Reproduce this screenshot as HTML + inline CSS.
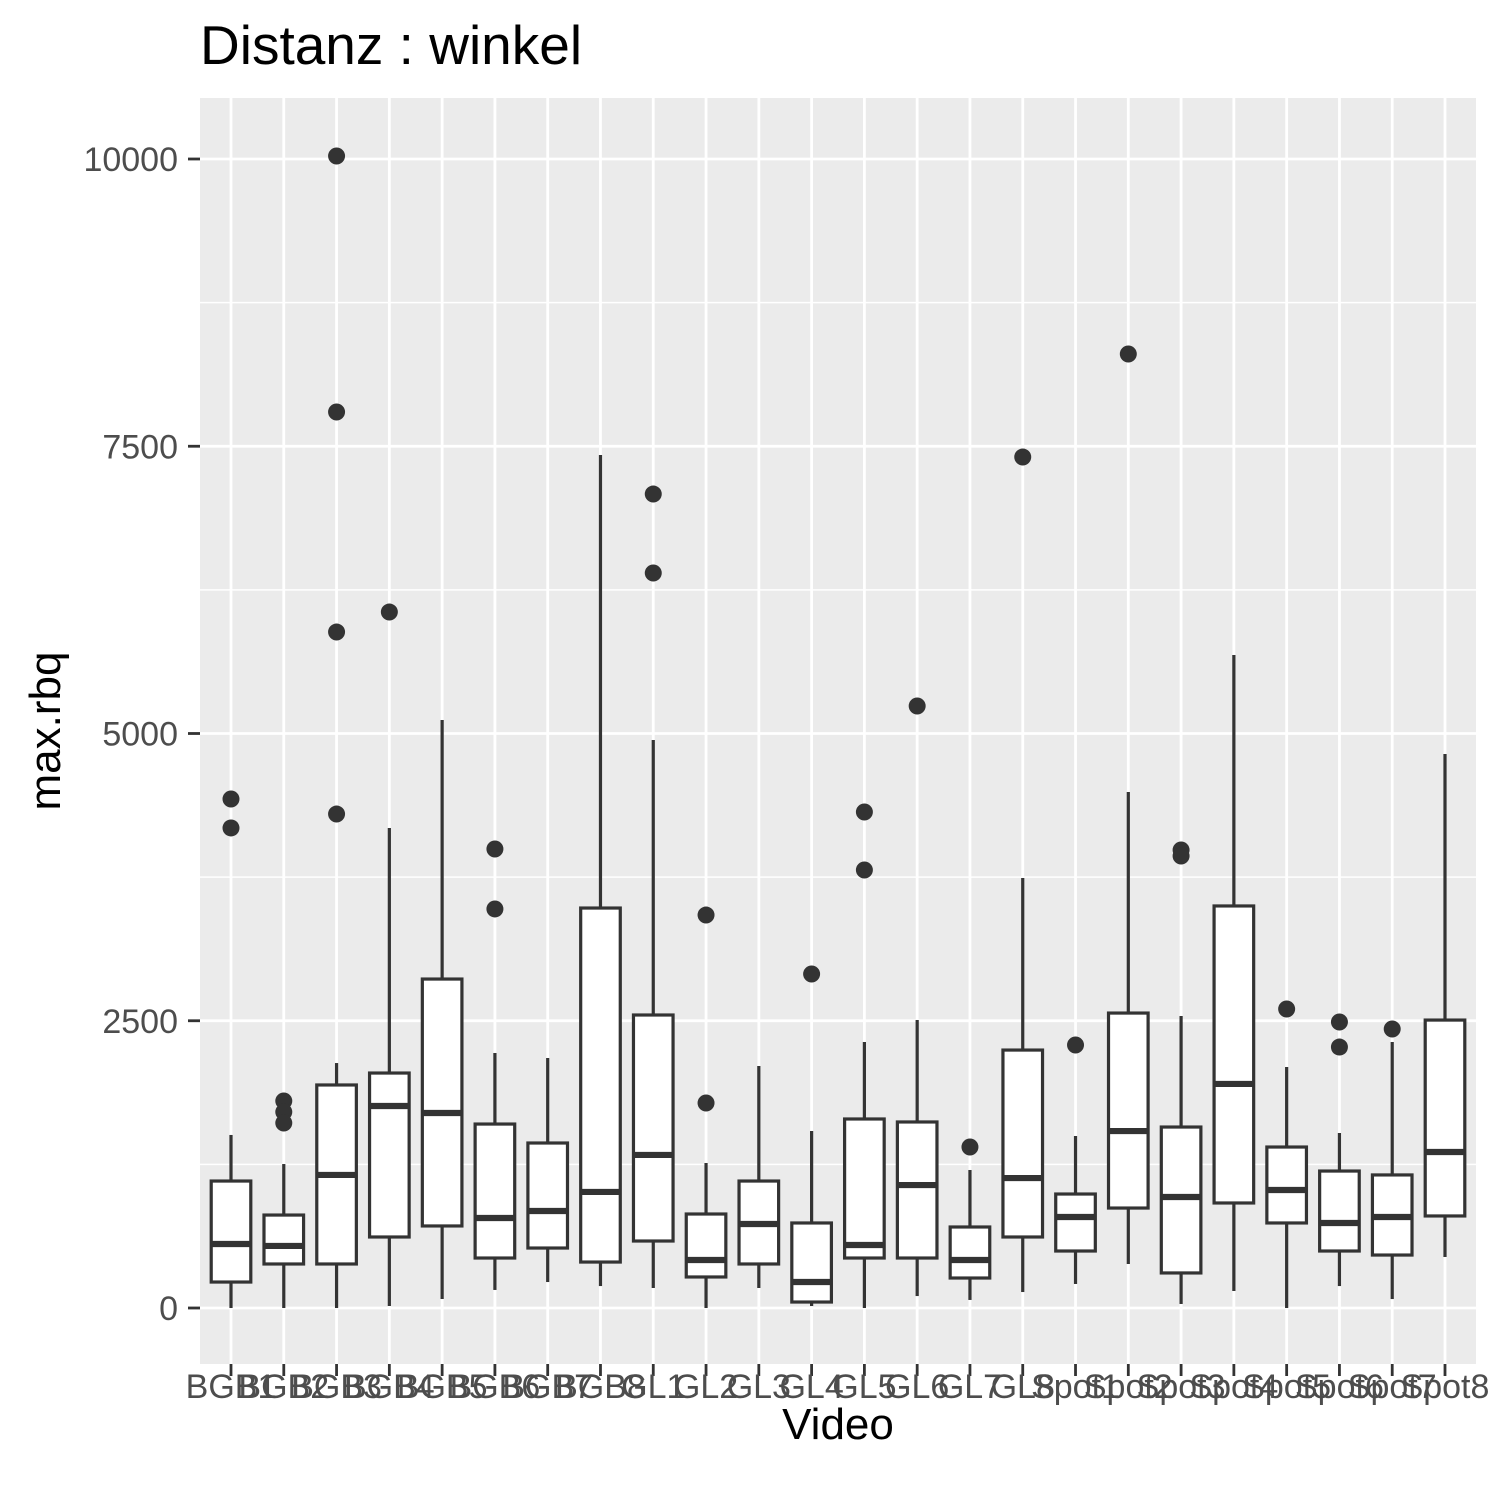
<!DOCTYPE html>
<html><head><meta charset="utf-8"><style>
html,body{margin:0;padding:0;background:#fff;}
svg{display:block;font-family:"Liberation Sans",Arial,sans-serif;}
</style></head><body>
<svg id="chart" width="1500" height="1500" viewBox="0 0 1500 1500" xmlns="http://www.w3.org/2000/svg">
<rect width="1500" height="1500" fill="#fff"/>
<text x="200" y="64" font-size="55" fill="#000">Distanz : winkel</text>
<rect x="200" y="98" width="1276" height="1266" fill="#ebebeb"/>
<g id="grid"></g><g id="marks"></g><g id="axes"></g>
<text x="838" y="1439" font-size="44" text-anchor="middle" fill="#000">Video</text>
<text transform="translate(60,731) rotate(-90)" font-size="44" text-anchor="middle" fill="#000">max.rbq</text>
</svg>
<script>
const categories = ["BGB1","BGB2","BGB3","BGB4","BGB5","BGB6","BGB7","BGB8","GL1","GL2","GL3","GL4","GL5","GL6","GL7","GL8","Spot1","Spot2","Spot3","Spot4","Spot5","Spot6","Spot7","Spot8"];
const whiskerLow = [0,0,0,17,78,157,226,191,174,0,174,17,0,104,70,139,209,383,35,148,0,191,78,444];
const q1Values = [226,383,383,618,714,435,522,400,583,270,383,52,435,435,261,618,496,870,305,914,740,496,461,801];
const medianValues = [557,540,1158,1758,1697,783,844,1010,1332,418,731,226,548,1070,418,1131,792,1540,966,1950,1027,740,792,1358];
const q3Values = [1105,809,1941,2045,2863,1601,1436,3481,2550,818,1105,740,1645,1619,705,2245,992,2567,1575,3499,1401,1192,1158,2506];
const whiskerHigh = [1506,1253,2132,4178,5117,2219,2176,7424,4943,1262,2106,1540,2315,2506,1201,3742,1497,4491,2541,5683,2097,1523,2315,4822];
const outliers = [[4430,4178],[1802,1706,1610],[10026,7798,5883,4299],[6057],[],[3995,3473],[],[],[7084,6397],[3420,1784],[],[2907],[4317,3812],[5239],[1401],[7406],[2289],[8303],[3986,3934],[],[2602],[2489,2271],[2428],[]];
const yTicks = [0,2500,5000,7500,10000];
const yTickLabels = ["0","2500","5000","7500","10000"];
const yMinor = [1250,3750,6250,8750];

const NS="http://www.w3.org/2000/svg";
const y = v => 1308 - v*(1308-159)/10000;
const x = i => 231 + i*(1445-231)/(categories.length-1);
function mk(tag, attrs, parent){const e=document.createElementNS(NS,tag);for(const k in attrs)e.setAttribute(k,attrs[k]);parent.appendChild(e);return e;}
const grid=document.getElementById('grid'), marks=document.getElementById('marks'), axes=document.getElementById('axes');
yMinor.forEach(v=>{const l=mk('line',{x1:200,x2:1476,y1:y(v),y2:y(v),stroke:'#fff','stroke-width':1.4},grid);

});
yTicks.forEach((v,i)=>{const l=mk('line',{x1:200,x2:1476,y1:y(v),y2:y(v),stroke:'#fff','stroke-width':2.8},grid);


const t=mk('line',{x1:188,x2:200,y1:y(v),y2:y(v),stroke:'#333','stroke-width':2.8},axes);


const tx=mk('text',{x:178,y:y(v)+12,'font-size':34,'text-anchor':'end',fill:'#4d4d4d'},axes);tx.textContent=yTickLabels[i];

});
const hw=(1445-231)/(categories.length-1)*0.375;
categories.forEach((c,i)=>{const cx=x(i);
const g=mk('line',{x1:cx,x2:cx,y1:98,y2:1364,stroke:'#fff','stroke-width':2.8},grid);


const grp=mk('g',{},marks);


mk('line',{x1:cx,x2:cx,y1:y(whiskerLow[i]),y2:y(q1Values[i]),stroke:'#333','stroke-width':3.2},grp);
mk('line',{x1:cx,x2:cx,y1:y(q3Values[i]),y2:y(whiskerHigh[i]),stroke:'#333','stroke-width':3.2},grp);
mk('rect',{x:cx-hw,y:y(q3Values[i]),width:2*hw,height:y(q1Values[i])-y(q3Values[i]),fill:'#fff',stroke:'#333','stroke-width':3.2},grp);
mk('line',{x1:cx-hw,x2:cx+hw,y1:y(medianValues[i]),y2:y(medianValues[i]),stroke:'#333','stroke-width':6.2},grp);
outliers[i].forEach(o=>{const p=mk('circle',{cx:cx,cy:y(o),r:8.5,fill:'#333'},grp);

});
const t=mk('line',{x1:cx,x2:cx,y1:1364,y2:1376,stroke:'#333','stroke-width':2.8},axes);


const tx=mk('text',{x:cx,y:1398,'font-size':34,'text-anchor':'middle',fill:'#4d4d4d'},axes);tx.textContent=c;

});
</script>
</body></html>
